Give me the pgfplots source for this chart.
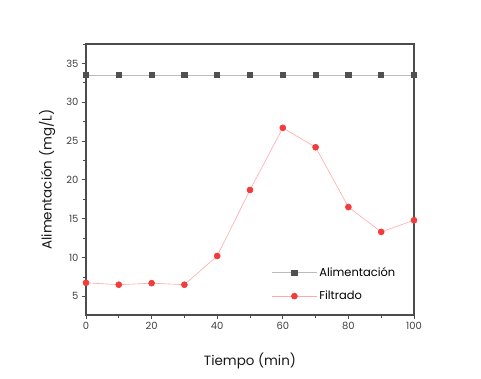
\documentclass[border=0pt]{standalone}
\usepackage{pgfplots}
\pgfplotsset{compat=1.18}
\usepackage{fontspec}
\setmainfont{Poppins}
\definecolor{alim}{HTML}{505050}
\definecolor{alimline}{HTML}{BBBBBB}
\definecolor{filt}{HTML}{F23C3C}
\definecolor{filtline}{HTML}{FFAAAA}
\begin{document}
\begin{tikzpicture}
\useasboundingbox (-86bp,-64bp) rectangle (395bp,315bp);
\begin{axis}[
  at={(0,0)}, anchor=south west,
  scale only axis, width=328bp, height=271bp,
  xmin=0, xmax=100, ymin=2.6, ymax=37.5,
  xtick={0,20,...,100}, minor xtick={10,30,...,90},
  ytick={5,10,...,35}, minor ytick={2.5,7.5,...,37.5},
  tick align=outside, xtick pos=bottom, ytick pos=left,
  major tick length=4bp, minor tick length=2.5bp,
  axis line style={draw=black!70, line width=1.1pt},
  tick style={black!70, line width=0.8pt},
  ticklabel style={font=\fontsize{10}{12}\selectfont, text=black!75},
  /pgf/number format/assume math mode=true,
  xlabel={Tiempo (min)}, ylabel={Alimentación (mg/L)},
  label style={font=\fontsize{13.5}{16}\selectfont, text=black!90},
  xlabel style={at={(axis description cs:0.5,0)}, anchor=north, yshift=-34bp},
  ylabel style={at={(axis description cs:-0.083,0.5)}, anchor=south},
  legend style={draw=none, fill=none, at={(axis description cs:0.565,0.113)}, anchor=west, font=\fontsize{11.5}{13}\selectfont, row sep=9bp, inner xsep=0pt},
  legend cell align=left,
  legend image code/.code={\draw[#1] (0bp,0bp) -- (45bp,0bp); \draw[#1, only marks] plot coordinates {(22.5bp,0bp)};},
  clip=false,
]
\addplot[alimline, line width=0.8pt, mark=square*, mark size=2.6bp, mark options={fill=alim, draw=alim}]
coordinates {(0,33.5)(10,33.5)(20,33.5)(30,33.5)(40,33.5)(50,33.5)(60,33.5)(70,33.5)(80,33.5)(90,33.5)(100,33.5)};
\addlegendentry{Alimentación}
\addplot[filtline, line width=0.6pt, mark=*, mark size=3bp, mark options={fill=filt, draw=filt}]
coordinates {(0,6.75)(10,6.5)(20,6.7)(30,6.5)(40,10.2)(50,18.7)(60,26.7)(70,24.2)(80,16.5)(90,13.3)(100,14.8)};
\addlegendentry{Filtrado}
\end{axis}
\end{tikzpicture}
\end{document}
